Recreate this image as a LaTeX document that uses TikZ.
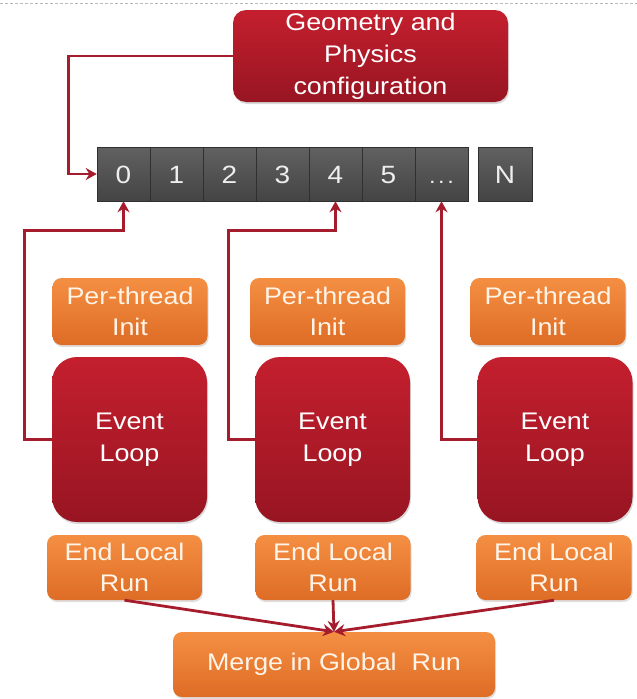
\documentclass[tikz,border=0pt]{standalone}
\usepackage{fontspec}
\setmainfont{Liberation Sans}[FakeStretch=1.12]
\usetikzlibrary{arrows.meta,shadows}

\definecolor{boxred}{HTML}{C41F2E}
\definecolor{boxreddark}{HTML}{981522}
\definecolor{boxorange}{HTML}{F48F42}
\definecolor{boxorangedark}{HTML}{DE6C26}
\definecolor{orangetext}{HTML}{FFF4E8}
\definecolor{cellgray}{HTML}{616161}
\definecolor{cellgraydark}{HTML}{444444}
\definecolor{celltext}{HTML}{EEEEEE}
\definecolor{linkred}{HTML}{A51D2D}

\begin{document}
\begin{tikzpicture}[x=1pt,y=-1pt,
  redbox/.style={draw=none, top color=boxred, bottom color=boxreddark,
    text=white, align=center, inner sep=0pt,
    font=\fontsize{24}{32}\selectfont,
    drop shadow={opacity=0.3, shadow xshift=1pt, shadow yshift=-2pt}},
  orangebox/.style={draw=none, top color=boxorange, bottom color=boxorangedark,
    rounded corners=9pt, text=orangetext, align=center, inner sep=0pt,
    minimum width=155pt, minimum height=65pt,
    font=\fontsize{24}{31}\selectfont,
    drop shadow={opacity=0.25, shadow xshift=1pt, shadow yshift=-2pt}},
  cell/.style={draw=cellgraydark!70!black, line width=0.5pt,
    top color=cellgray, bottom color=cellgraydark, text=celltext,
    inner sep=0pt, minimum width=53pt, minimum height=54pt,
    text height=18pt, text depth=0pt,
    font=\fontsize{25}{30}\selectfont},
  link/.style={draw=linkred, line width=2.8pt,
    -{Stealth[length=11pt,width=12pt]}},
]
\useasboundingbox (0,0) rectangle (637,699);

\coordinate (geometry-center) at (370.5,56);

\coordinate (cell-0) at (123.5,174);
\coordinate (cell-1) at (176.5,174);
\coordinate (cell-2) at (229.5,174);
\coordinate (cell-3) at (282.5,174);
\coordinate (cell-4) at (335.5,174);
\coordinate (cell-5) at (388.5,174);
\coordinate (cell-6) at (441.5,174);
\coordinate (cell-n) at (505,174);

\coordinate (init-1-center) at (130,311.5);
\coordinate (init-2-center) at (327.5,311.5);
\coordinate (init-3-center) at (548,311.5);

\coordinate (loop-1-center) at (129.5,439.5);
\coordinate (loop-2-center) at (332.5,439.5);
\coordinate (loop-3-center) at (555,439.5);

\coordinate (end-1-center) at (124.5,567.5);
\coordinate (end-2-center) at (333,567.5);
\coordinate (end-3-center) at (554,567.5);

\coordinate (merge-center) at (334,664.5);

\draw [gray!55, line width=0.8pt, dash pattern=on 3pt off 2pt] (0,3) -- (637,3);

\node [redbox, rounded corners=13pt, minimum width=275pt, minimum height=92pt] (geometry) at (geometry-center) {Geometry and\\Physics\\configuration};

\node [cell] (c0) at (cell-0) {0};
\node [cell] (c1) at (cell-1) {1};
\node [cell] (c2) at (cell-2) {2};
\node [cell] (c3) at (cell-3) {3};
\node [cell] (c4) at (cell-4) {4};
\node [cell] (c5) at (cell-5) {5};
\node [cell, font=\fontsize{21}{24}\selectfont] (c6) at (cell-6) {.\hspace{2.5pt}.\hspace{2.5pt}.};
\node [cell, minimum width=54pt] (cn) at (cell-n) {N};

\node [orangebox, minimum height=67pt] (init-1) at (init-1-center) {Per-thread\\Init};
\node [orangebox, minimum height=67pt] (init-2) at (init-2-center) {Per-thread\\Init};
\node [orangebox, minimum height=67pt] (init-3) at (init-3-center) {Per-thread\\Init};

\node [redbox, rounded corners=25pt, minimum width=155pt, minimum height=165pt] (loop-1) at (loop-1-center) {Event\\Loop};
\node [redbox, rounded corners=25pt, minimum width=155pt, minimum height=165pt] (loop-2) at (loop-2-center) {Event\\Loop};
\node [redbox, rounded corners=25pt, minimum width=155pt, minimum height=165pt] (loop-3) at (loop-3-center) {Event\\Loop};

\node [orangebox] (end-1) at (end-1-center) {End Local\\Run};
\node [orangebox] (end-2) at (end-2-center) {End Local\\Run};
\node [orangebox] (end-3) at (end-3-center) {End Local\\Run};

\node [orangebox, minimum width=322pt] (merge) at (merge-center) {Merge in Global\ \ Run};

\draw [link] (geometry.west) -- ++(-164,0) |- (c0.west);

\draw [link] (loop-1.west) -- ++(-27,0) |- ([yshift=-29pt]c0.south) -- (c0.south);
\draw [link] (loop-2.west) -- ++(-26,0) |- ([yshift=-29pt]c4.south) -- (c4.south);
\draw [link] (loop-3.west) -| (c6.south);

\draw [link] (end-1.south) -- (merge.north);
\draw [link] (end-2.south) -- (merge.north);
\draw [link] (end-3.south) -- (merge.north);

\end{tikzpicture}
\end{document}
